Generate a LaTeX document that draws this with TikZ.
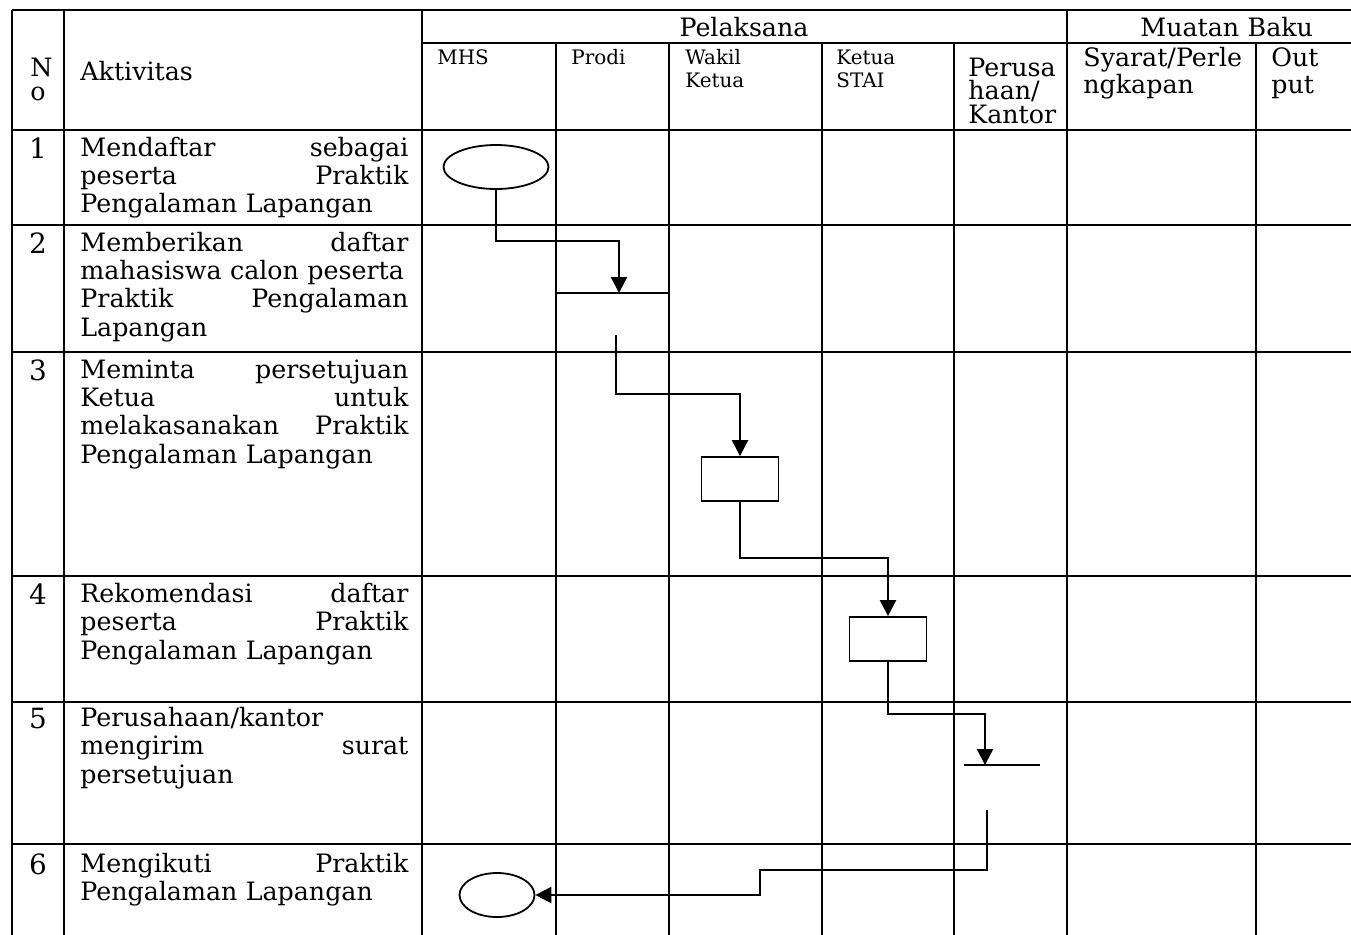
\documentclass[tikz,border=0pt]{standalone}
\usepackage{fontspec}
\setmainfont{DejaVu Serif}
\usetikzlibrary{arrows.meta,shapes.geometric}

\newcommand{\bodyfont}{\fontsize{12.7}{14.3}\selectfont}
\newcommand{\headfont}{\fontsize{10}{12}\selectfont}

\tikzset{
  tabline/.style={line width=1.1bp},
  flow/.style={line width=1.2bp, -{Triangle[width=8bp,length=8bp]}},
  terminal/.style={ellipse, draw, line width=0.9bp, inner sep=0, minimum height=22bp},
  process/.style={rectangle, draw, line width=0.9bp, inner sep=0, minimum width=38.5bp, minimum height=22bp},
  act/.style={anchor=base west, inner sep=0, text width=164bp, align=left, font=\bodyfont},
  num/.style={anchor=base, inner sep=0, font=\fontsize{14}{16}\selectfont},
  head/.style={anchor=base west, inner sep=0, text width=60bp, align=left, font=\headfont}
}

\begin{document}
\begin{tikzpicture}[x=0.5bp, y=-0.5bp]
\useasboundingbox (0,0) rectangle (1351,934);

% table rules
\draw[tabline] (12,10) -- (1360,10);
\draw[tabline] (422,43) -- (1360,43);
\foreach \y in {130,225,352,576,702,844}
  \draw[tabline] (12,\y) -- (1360,\y);
\foreach \x in {12,64,422,1067}
  \draw[tabline] (\x,10) -- (\x,940);
\foreach \x in {556,669,822,954,1256}
  \draw[tabline] (\x,43) -- (\x,940);

% header
\node[act, text width=20bp, font=\fontsize{12.7}{12.5}\selectfont] (hNo) at (30,76) {N\\o};
\node[act, text width=100bp] (hAktivitas) at (80,80) {Aktivitas};
\node[act, anchor=base, text width=] (hPelaksana) at (744,36) {Pelaksana};
\node[act, text width=100bp] (hMuatan) at (1140,36) {Muatan Baku};
\node[head] (hMhs) at (437,64) {MHS};
\node[head] (hProdi) at (571,64) {Prodi};
\node[head] (hWakil) at (685,64) {Wakil\\Ketua};
\node[head] (hKetua) at (836,64) {Ketua\\STAI};
\node[act, text width=50bp, font=\fontsize{12.7}{12}\selectfont] (hKantor) at (968,76) {Perusa\\haan/\\Kantor};
\node[act, text width=85bp, font=\fontsize{12.7}{14}\selectfont] (hSyarat) at (1083,66) {Syarat/Perle\\ngkapan};
\node[act, text width=40bp, font=\fontsize{12.7}{14}\selectfont] (hOut) at (1271,66) {Out\\put};

% rows
\node[num] (n1) at (38,158) {1};
\node[act] (a1) at (80,156) {Mendaftar\hfill sebagai\\peserta\hfill Praktik\\Pengalaman Lapangan};
\node[num] (n2) at (38,253) {2};
\node[act] (a2) at (80,251) {Memberikan\hfill daftar\\mahasiswa calon peserta\\Praktik\hfill Pengalaman\\Lapangan};
\node[num] (n3) at (38,380) {3};
\node[act] (a3) at (80,378) {Meminta\hfill persetujuan\\Ketua\hfill untuk\\melakasanakan\hfill Praktik\\Pengalaman Lapangan};
\node[num] (n4) at (38,604) {4};
\node[act] (a4) at (80,602) {Rekomendasi\hfill daftar\\peserta\hfill Praktik\\Pengalaman Lapangan};
\node[num] (n5) at (38,728) {5};
\node[act] (a5) at (80,726) {Perusahaan/kantor\\mengirim\hfill surat\\persetujuan};
\node[num] (n6) at (38,874) {6};
\node[act] (a6) at (80,872) {Mengikuti\hfill Praktik\\Pengalaman Lapangan};

% flow symbols
\node[terminal, minimum width=52.5bp] (mulai) at (496,167) {};
\node[process] (wakil) at (740,479) {};
\node[process] (ketua) at (888,639) {};
\node[terminal, minimum width=37.5bp] (selesai) at (497,895) {};

\coordinate (prodiL) at (557,293);
\coordinate (prodiR) at (669,293);
\coordinate (prodi) at (619,293);
\coordinate (prodiout) at (616,335);
\coordinate (kantorL) at (964,765);
\coordinate (kantorR) at (1040,765);
\coordinate (kantor) at (985,765);
\coordinate (kantorout) at (987,810);

\draw[tabline] (prodiL) -- (prodiR);
\draw[tabline] (kantorL) -- (kantorR);

% connectors
\draw[flow] (mulai.south) -- ++(0,51) -| (prodi);
\draw[flow] (prodiout) -- ++(0,59) -| (wakil.north);
\draw[flow] (wakil.south) -- ++(0,56) -| (ketua.north);
\draw[flow] (ketua.south) -- ++(0,52) -| (kantor);
\draw[flow] (kantorout) -- ++(0,60) -| ++(-227,25) -- (selesai.east);
\end{tikzpicture}
\end{document}
